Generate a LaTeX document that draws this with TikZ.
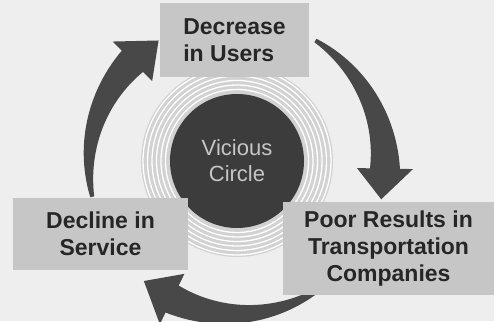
\documentclass[tikz,border=0pt]{standalone}
\usepackage{fontspec}
\setmainfont{Liberation Sans}

\definecolor{paper}{HTML}{EEEEEE}
\definecolor{boxgray}{HTML}{C6C6C6}
\definecolor{arrowgray}{HTML}{484848}
\definecolor{ringgray}{HTML}{D2D2D2}
\definecolor{coregray}{HTML}{3C3C3C}
\definecolor{ink}{HTML}{262626}

\begin{document}
\begin{tikzpicture}[x=1pt,y=1pt,
    box/.style={fill=boxgray, inner sep=0pt, text=ink,
      font=\bfseries\fontsize{23}{27}\selectfont},
    core/.style={circle, fill=coregray, inner sep=0pt, minimum size=134,
      text=boxgray, align=center, font=\fontsize{22}{26}\selectfont}]
  \fill[paper] (0,0) rectangle (494,321);
  \useasboundingbox (0,0) rectangle (494,321);
  \coordinate (hub) at (237,155);
  \coordinate (mid) at (237,160);
  % tapered arrows round the cycle
  \foreach \from/\base/\tip in {192/135/122, 58/-1/-13, -55/-116/-129} {
    \fill[arrowgray, shift={(hub)}]
      plot[variable=\ang, domain=\from:\base, samples=30] (\ang:{150+13*(\ang-\from)/(\base-\from)})
      -- (\base:176) -- (\tip:148) -- (\base:120)
      -- plot[variable=\ang, domain=\base:\from, samples=30] (\ang:{146-13*(\ang-\from)/(\base-\from)})
      -- cycle;
  }
  % rings
  \fill[ringgray] (mid) circle (96);
  \foreach \r in {71.5,76,...,94} {
    \draw[white, line width=1.3pt] (mid) circle (\r);
  }
  \node[core] (vicious) at (mid) {Vicious\\Circle};
  % boxes
  \node[box, minimum width=149, minimum height=74, align=left] (users) at (234.5,281) {Decrease\\in Users};
  \node[box, minimum width=175, minimum height=72, align=center] (service) at (100.5,87) {Decline in\\Service};
  \node[box, minimum width=211, minimum height=93, align=center] (results) at (388.5,72.5) {Poor Results in\\Transportation\\Companies};
\end{tikzpicture}
\end{document}
